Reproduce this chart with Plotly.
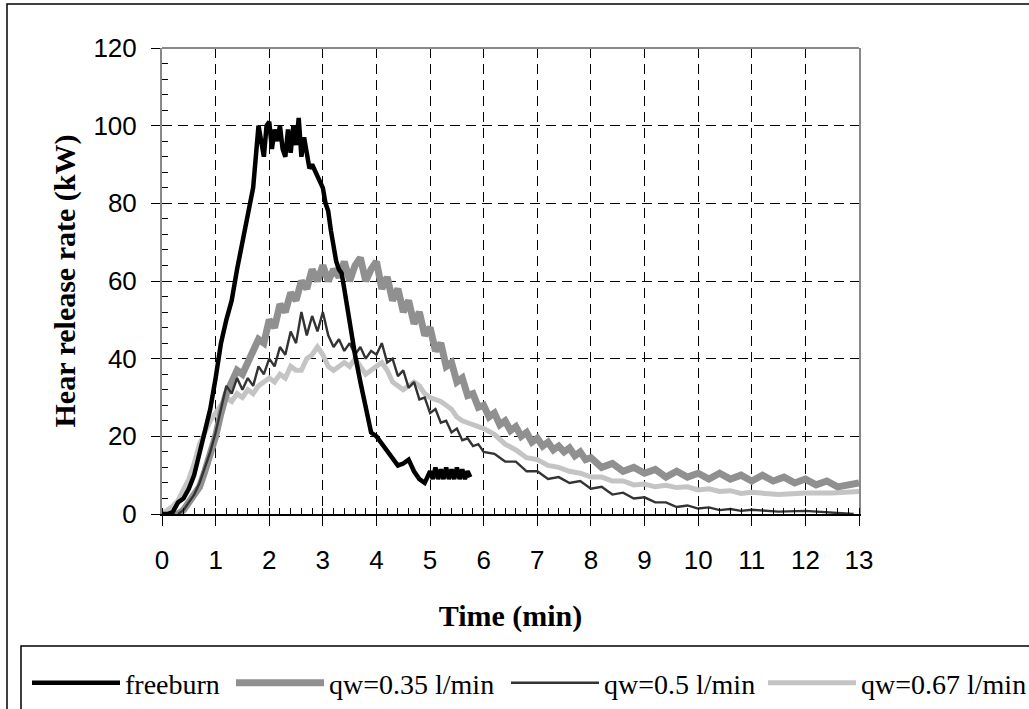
import plotly.graph_objects as go

# ---------------- data ----------------
t_free = [0.0, 0.1, 0.2, 0.3, 0.4, 0.5, 0.6, 0.7, 0.8, 0.9, 1.0, 1.1, 1.2, 1.3, 1.4, 1.5, 1.6, 1.7,
          1.75, 1.8, 1.85, 1.9, 1.95, 2.0, 2.05, 2.1, 2.15, 2.2, 2.25, 2.3, 2.35, 2.4, 2.45, 2.5,
          2.55, 2.6, 2.65, 2.7, 2.75, 2.8, 2.9, 3.0, 3.05, 3.1, 3.15, 3.2, 3.25, 3.3, 3.35, 3.4,
          3.5, 3.6, 3.7, 3.8, 3.9, 4.0, 4.1, 4.2, 4.3, 4.4, 4.5, 4.6, 4.7, 4.8, 4.9, 5.0, 5.05,
          5.1, 5.15, 5.2, 5.25, 5.3, 5.35, 5.4, 5.45, 5.5, 5.55, 5.6, 5.65, 5.7, 5.75]
v_free = [0, 0, 0.5, 3, 4, 6.5, 10, 16, 21, 27, 35, 44, 50, 55, 63, 70, 77, 84,
          92, 100, 96, 92, 100, 101, 94, 99, 96, 100, 94, 92, 99, 93, 100, 95,
          102, 92, 97, 93, 89, 90, 87, 84, 80, 78, 73, 69, 65, 63, 62, 58,
          49, 41, 34, 28, 21, 20, 18, 16, 14, 12.5, 13, 14, 11, 9, 8, 11, 9,
          12, 9, 11.5, 9, 12, 9, 11.5, 9, 12, 9, 11.5, 9, 11, 9.5]

t_035 = [0.2, 0.3, 0.4, 0.5, 0.6, 0.7, 0.8, 0.9, 1.0, 1.1, 1.2, 1.3, 1.4, 1.5, 1.6, 1.7, 1.8, 1.9,
         2.0, 2.1, 2.2, 2.3, 2.4, 2.5, 2.6, 2.7, 2.8, 2.9, 3.0, 3.1, 3.2, 3.3, 3.4, 3.5, 3.6, 3.7,
         3.8, 3.9, 4.0, 4.1, 4.2, 4.3, 4.4, 4.5, 4.6, 4.7, 4.8, 4.9, 5.0, 5.1, 5.2, 5.3, 5.4, 5.5,
         5.6, 5.7, 5.8, 5.9, 6.0, 6.1, 6.2, 6.3, 6.4, 6.5, 6.6, 6.7, 6.8, 6.9, 7.0, 7.1, 7.2, 7.3,
         7.4, 7.5, 7.6, 7.7, 7.8, 7.9, 8.0, 8.2, 8.4, 8.6, 8.8, 9.0, 9.2, 9.4, 9.6, 9.8, 10.0,
         10.2, 10.4, 10.6, 10.8, 11.0, 11.2, 11.4, 11.6, 11.8, 12.0, 12.2, 12.4, 12.6, 12.8, 13.0]
v_035 = [0, 0, 1, 3, 5, 7, 11, 15, 20, 26, 31, 34, 37, 36, 39, 42, 45, 44,
         50, 48, 54, 52, 57, 55, 60, 58, 63, 60, 64, 60, 63, 61, 65, 60, 64, 66,
         60, 63, 65, 58, 61, 55, 58, 52, 55, 49, 52, 46, 48, 42, 44, 38, 39, 34,
         35, 30.5, 31, 27.5, 28, 25, 26, 23, 24, 21.5, 22.5, 20, 21, 18.5, 19.5, 17.5, 18.5, 16.5,
         17.5, 16, 17, 15, 16, 14, 14.5, 12, 13, 11, 12, 10.5, 11.5, 9.5, 11, 9.5, 10.5,
         9, 10.5, 9, 10, 8.5, 10, 8.5, 9.5, 8, 9, 7.5, 8.5, 7, 7.5, 8]

t_05 = [0.3, 0.4, 0.5, 0.6, 0.7, 0.8, 0.9, 1.0, 1.1, 1.2, 1.3, 1.4, 1.5, 1.6, 1.7, 1.8, 1.9, 2.0,
        2.1, 2.2, 2.3, 2.4, 2.5, 2.6, 2.7, 2.8, 2.9, 3.0, 3.1, 3.2, 3.3, 3.4, 3.5, 3.6, 3.7, 3.8,
        3.9, 4.0, 4.1, 4.2, 4.3, 4.4, 4.5, 4.6, 4.7, 4.8, 4.9, 5.0, 5.1, 5.2, 5.3, 5.4, 5.5, 5.6,
        5.7, 5.8, 5.9, 6.0, 6.2, 6.4, 6.6, 6.8, 7.0, 7.2, 7.4, 7.6, 7.8, 8.0, 8.2, 8.4, 8.6, 8.8,
        9.0, 9.2, 9.4, 9.6, 9.8, 10.0, 10.2, 10.4, 10.6, 10.8, 11.0, 11.5, 12.0, 12.5, 12.9]
v_05 = [0, 1, 3, 5, 8, 12, 16, 21, 27, 33, 31, 35, 32, 35, 33, 38, 36, 40,
        38, 43, 41, 47, 44, 52, 46, 51, 47, 52, 46, 43, 45, 42, 44, 41, 43, 40,
        42, 41, 44, 39, 40, 35.5, 37, 32.5, 34, 29.5, 30, 26, 27, 23.5, 24, 21, 22, 19,
        19.5, 17.5, 18, 16, 15.5, 13.5, 13.5, 11, 11, 9, 9.5, 8, 8.5, 6.5, 7, 5, 5.5, 4,
        4.3, 3, 3, 1.8, 2.2, 1.4, 1.7, 1, 1.3, 0.8, 1.1, 0.6, 0.8, 0.4, 0]

t_067 = [0.0, 0.1, 0.2, 0.3, 0.4, 0.5, 0.6, 0.7, 0.8, 0.9, 1.0, 1.1, 1.2, 1.3, 1.4, 1.5, 1.6, 1.7,
         1.8, 1.9, 2.0, 2.1, 2.2, 2.3, 2.4, 2.5, 2.6, 2.7, 2.8, 2.9, 3.0, 3.1, 3.2, 3.3, 3.4, 3.5,
         3.6, 3.7, 3.8, 3.9, 4.0, 4.1, 4.2, 4.3, 4.4, 4.5, 4.6, 4.7, 4.8, 4.9, 5.0, 5.1, 5.2, 5.3,
         5.4, 5.5, 5.6, 5.7, 5.8, 5.9, 6.0, 6.2, 6.4, 6.6, 6.8, 7.0, 7.2, 7.4, 7.6, 7.8, 8.0, 8.2,
         8.4, 8.6, 8.8, 9.0, 9.2, 9.4, 9.6, 9.8, 10.0, 10.2, 10.4, 10.6, 10.8, 11.0, 11.5, 12.0,
         12.5, 13.0]
v_067 = [0, 1, 2, 3.5, 6, 9, 13, 18, 21, 24, 26, 28, 30, 29, 31, 30, 32, 31,
         33, 34, 35, 34, 36, 35, 38, 37, 37, 40, 41, 43, 41, 38, 37, 38, 39, 38,
         40, 38, 36, 37, 38, 39, 37, 34, 33, 32, 33, 34, 33, 31, 30, 29.5, 29, 28,
         27, 25, 24, 23.5, 23, 22.5, 22, 20.5, 18, 16.5, 14.5, 14, 12.5, 12, 11, 10.5, 9.5, 9.5,
         8.5, 8.5, 7.5, 7.7, 7, 7.4, 6.8, 7, 6.2, 6.5, 5.8, 6, 5.3, 5.6, 5, 5.4,
         5.4, 5.8]

series_names = ["freeburn", "qw=0.35 l/min", "qw=0.5 l/min", "qw=0.67 l/min"]
x_ticks = list(range(0, 14))
y_ticks = list(range(0, 121, 20))

# ---------------- layout geometry ----------------
W, H = 1029, 709
PL, PR, PT, PB = 162, 859, 48, 514   # plot area in pixels
pw, ph = PR - PL, PB - PT


def px(xp):
    return (xp - PL) / pw


def py(yp):
    return (PB - yp) / ph


fig = go.Figure()
# draw order: light first, black freeburn on top; each entry in its own legend box
fig.add_trace(go.Scatter(x=t_067, y=v_067, name=series_names[3], mode="lines",
                         line=dict(color="#c4c4c4", width=5), legend="legend4"))
fig.add_trace(go.Scatter(x=t_035, y=v_035, name=series_names[1], mode="lines",
                         line=dict(color="#909090", width=7), legend="legend2"))
fig.add_trace(go.Scatter(x=t_05, y=v_05, name=series_names[2], mode="lines",
                         line=dict(color="#333333", width=2.4), legend="legend3"))
fig.add_trace(go.Scatter(x=t_free, y=v_free, name=series_names[0], mode="lines",
                         line=dict(color="black", width=4.5), legend="legend"))

legend_font = dict(family="Liberation Serif, Times New Roman", size=28, color="black")
legend_y = py(658)


def leg(xpix):
    return dict(orientation="h", x=px(xpix), y=legend_y, xanchor="left", yanchor="top",
                font=legend_font, itemwidth=88, bgcolor="rgba(0,0,0,0)", borderwidth=0)


fig.update_layout(
    width=W, height=H,
    margin=dict(l=PL, r=W - PR, t=PT, b=H - PB, autoexpand=False),
    paper_bgcolor="white", plot_bgcolor="white",
    font=dict(family="Liberation Sans, Arial", color="black", size=26),
    showlegend=True,
    legend=leg(27), legend2=leg(231), legend3=leg(506), legend4=leg(763),
    xaxis=dict(range=[0, 13], tickvals=x_ticks, ticktext=[str(v) for v in x_ticks],
               showgrid=True, gridcolor="black", griddash="10px,6px", gridwidth=1,
               ticks="outside", ticklen=10, tickcolor="black", tickwidth=1,
               ticklabelstandoff=12,
               showline=True, linecolor="black", linewidth=2, zeroline=False,
               minor=dict(ticks="inside", dtick=0.2, ticklen=6, tickcolor="black", showgrid=False),
               title=dict(text="<b>Time (min)</b>", standoff=31,
                          font=dict(family="Liberation Serif, Times New Roman", size=30)),
               tickfont=dict(size=26), automargin=False),
    yaxis=dict(range=[0, 120], tickvals=y_ticks, ticktext=[str(v) for v in y_ticks],
               showgrid=True, gridcolor="black", griddash="10px,6px", gridwidth=1,
               ticks="outside", ticklen=9, tickcolor="black", tickwidth=1,
               ticklabelstandoff=9,
               showline=True, linecolor="#888888", linewidth=2, mirror=True, zeroline=False,
               minor=dict(ticks="inside", dtick=4, ticklen=6, tickcolor="black", showgrid=False),
               title=dict(text="<b>Hear release rate (kW)</b>", standoff=9,
                          font=dict(family="Liberation Serif, Times New Roman", size=30)),
               tickfont=dict(size=26), automargin=False),
)

# top border of plot area (grey) and outer / legend frames
fig.add_shape(type="line", xref="paper", yref="paper", x0=0, x1=1, y0=1, y1=1,
              line=dict(color="#888888", width=2), layer="above")
fig.add_shape(type="rect", xref="paper", yref="paper",
              x0=px(7), x1=px(W + 10), y0=py(4), y1=py(H + 10),
              line=dict(color="black", width=1.5), layer="above")
fig.add_shape(type="rect", xref="paper", yref="paper",
              x0=px(21), x1=px(W + 10), y0=py(646), y1=py(H + 10),
              line=dict(color="black", width=1.5), layer="above")

fig.write_html("out.html", config={"displayModeBar": False},
               post_script="document.body.style.margin='0px';")
